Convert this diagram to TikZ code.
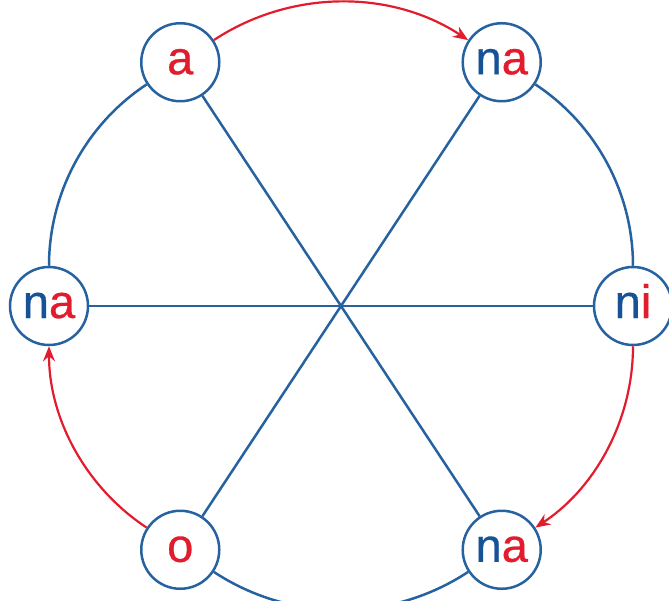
\documentclass[tikz,border=0pt]{standalone}
\usepackage{fontspec}
\setmainfont{Liberation Sans}
\newfontfamily\sylfont{Liberation Sans}[FakeBold=0.6]
\usetikzlibrary{arrows.meta}
\definecolor{lblue}{RGB}{38,98,160}
\definecolor{tblue}{RGB}{22,82,150}
\definecolor{tred}{RGB}{226,28,45}
\begin{document}
\begin{tikzpicture}[x=1pt,y=1pt,
  syl/.style={circle, draw=lblue, line width=2.5pt, minimum size=78pt, inner sep=0pt, fill=white,
    font=\sylfont\fontsize{47}{47}\selectfont, text height=24pt, text depth=0pt},
  spoke/.style={draw=lblue, line width=2.5pt},
  redarr/.style={draw=tred, line width=2.2pt, -{Stealth[length=15pt,width=12pt]}},
  rim/.style={draw=lblue, line width=2.5pt},
]
\useasboundingbox (-341,-294) rectangle (328,306);
\node[syl] (a)    at (123.4:292) {\textcolor{tred}{a}};
\node[syl] (nat)  at (56.6:292)  {\textcolor{tblue}{n}\textcolor{tred}{a}};
\node[syl] (ni)   at (0:292)     {\textcolor{tblue}{n}\textcolor{tred}{i}};
\node[syl] (nab)  at (-56.6:292) {\textcolor{tblue}{n}\textcolor{tred}{a}};
\node[syl] (o)    at (-123.4:292){\textcolor{tred}{o}};
\node[syl] (nal)  at (180:292)   {\textcolor{tblue}{n}\textcolor{tred}{a}};
% spokes
\draw[spoke] (a) -- (nab);
\draw[spoke] (nat) -- (o);
\draw[spoke] (nal) -- (ni);
% rim arcs
\draw[rim] (nal) to[bend left=28.3, looseness=0.905] (a);
\draw[rim] (nat) to[bend left=28.3, looseness=0.905] (ni);
\draw[rim] (nab) to[bend left=33.4, looseness=0.93] (o);
% red arrows
\draw[redarr] (a) to[bend left=33.4, looseness=0.93] (nat);
\draw[redarr] (ni) to[bend left=28.3, looseness=0.905] (nab);
\draw[redarr] (o) to[bend left=28.3, looseness=0.905] (nal);
\end{tikzpicture}
\end{document}
